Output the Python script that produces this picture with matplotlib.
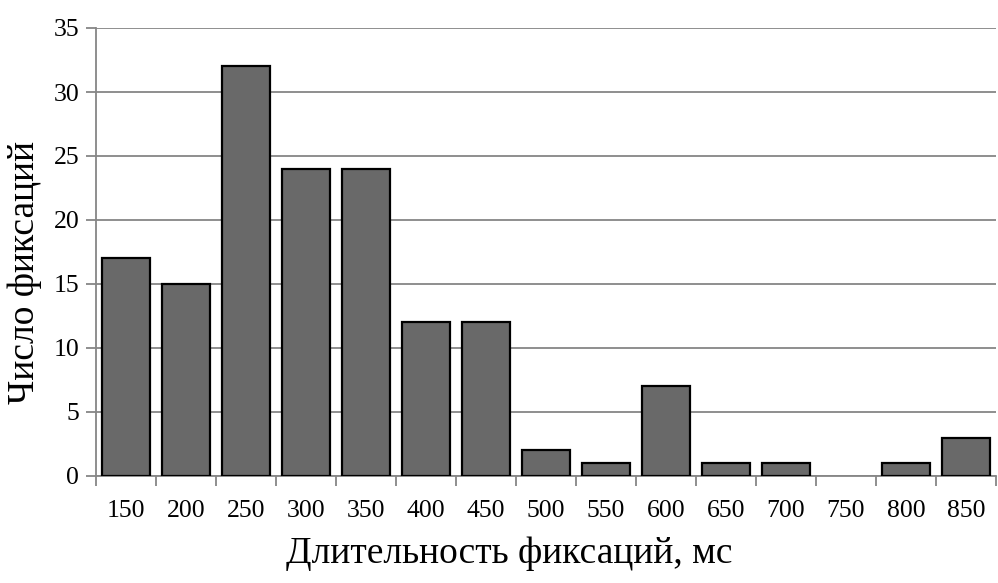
import matplotlib
matplotlib.use("Agg")
import matplotlib.pyplot as plt
import numpy as np

# fixation duration bins (ms) and counts
durations = ["150", "200", "250", "300", "350", "400", "450", "500",
             "550", "600", "650", "700", "750", "800", "850"]
counts = [17, 15, 32, 24, 24, 12, 12, 2, 1, 7, 1, 1, 0, 1, 3]
y_ticks = [0, 5, 10, 15, 20, 25, 30, 35]

plt.rcParams["font.family"] = ["Liberation Serif", "DejaVu Serif"]

fig = plt.figure(figsize=(9.98, 5.83), dpi=100)
ax = fig.add_axes([96 / 998, 107 / 583, 900 / 998, 448 / 583])

x = np.arange(len(durations))
# empty bins get no outline
edge_w = [1.6 if c > 0 else 0 for c in counts]
ax.bar(x, counts, width=0.8, color="#696969", edgecolor="black", linewidth=edge_w, zorder=3)

ax.set_xlim(-0.5, len(durations) - 0.5)
ax.set_ylim(0, 35)
ax.set_yticks(y_ticks)
ax.set_yticklabels([str(v) for v in y_ticks], fontsize=18.5)
ax.yaxis.grid(True, color="#868686", linewidth=1.3, zorder=0)

# category labels centred, tick marks between categories
ax.set_xticks(x)
ax.set_xticklabels(durations, fontsize=18.5)
ax.tick_params(axis="x", which="major", length=0, pad=17)
ax.set_xticks(np.arange(-0.5, len(durations)), minor=True)
ax.tick_params(axis="x", which="minor", length=7, width=1.3, color="#868686", direction="out")
ax.tick_params(axis="y", length=7, width=1.3, color="#868686", direction="out", pad=5)

for side in ["top", "right"]:
    ax.spines[side].set_visible(False)
for side in ["left", "bottom"]:
    ax.spines[side].set_color("#868686")
    ax.spines[side].set_linewidth(1.3)

ax.set_xlabel("Длительность фиксаций, мс", fontsize=27, labelpad=12)
ax.set_ylabel("Число фиксаций", fontsize=27, labelpad=8)
ax.xaxis.set_label_coords(0.459, -0.135)
ax.yaxis.get_label().set_y(0.455)

fig.savefig("out.png", dpi=100)
